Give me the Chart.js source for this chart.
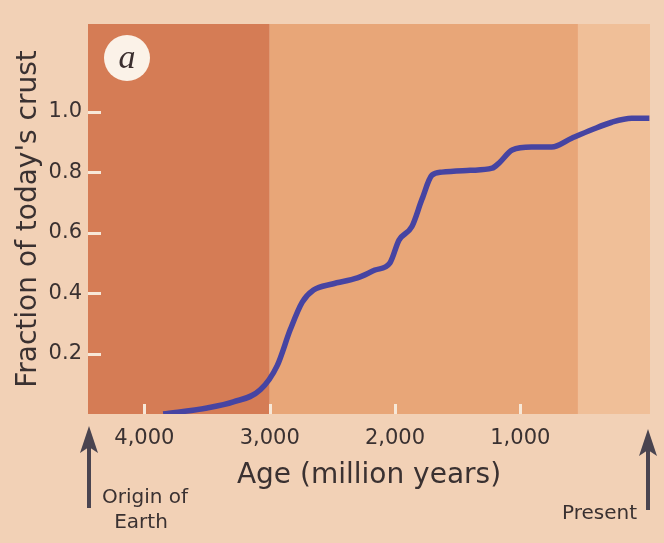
<!DOCTYPE html>
<html>
<head>
<meta charset="utf-8">
<script src="https://cdn.jsdelivr.net/npm/chart.js@4/dist/chart.umd.min.js"></script>
<style>
  html, body { margin: 0; padding: 0; background: #f2d1b6; }
  #wrap { width: 664px; height: 543px; }
</style>
</head>
<body>
<div id="wrap"><canvas id="myChart" width="664" height="543"></canvas></div>
<script>
// age in million years before present, and fraction of today's crust
const ages = [3850, 3500, 3290, 3075, 2940, 2835, 2740, 2650, 2500, 2300, 2160, 2040, 1968, 1865, 1785, 1705, 1625, 1400, 1225, 1170, 1065, 910, 750, 590, 430, 270, 110, -30];
const fraction = [0, 0.02, 0.04, 0.08, 0.16, 0.28, 0.37, 0.41, 0.43, 0.45, 0.476, 0.50, 0.575, 0.62, 0.71, 0.79, 0.80, 0.806, 0.813, 0.83, 0.873, 0.883, 0.883, 0.912, 0.94, 0.965, 0.978, 0.978];
const xTicks = [4000, 3000, 2000, 1000];
const yTicks = [0.2, 0.4, 0.6, 0.8, 1.0];
// shaded background periods (age from, age to)
const bandFrom = [4450, 3000, 540];
const bandTo = [3000, 540, -35];

const bandColors = ['#d57c55', '#e8a678', '#f0bf98'];
const textColor = '#3a3131';
const font = 'DejaVu Sans';

const decorations = {
    id: 'decorations',
    beforeDatasetsDraw(chart) {
        const ctx = chart.ctx;
        const a = chart.chartArea;
        const x = chart.scales.x, y = chart.scales.y;
        ctx.save();
        for (let i = 0; i < bandFrom.length; i++) {
            const x1 = x.getPixelForValue(bandFrom[i]);
            const x2 = x.getPixelForValue(bandTo[i]);
            ctx.fillStyle = bandColors[i];
            ctx.fillRect(Math.min(x1, x2), a.top, Math.abs(x2 - x1), a.bottom - a.top);
        }
        // inward tick marks
        ctx.strokeStyle = '#f7e8d8';
        ctx.lineWidth = 3;
        for (let v of yTicks) {
            const py = Math.round(y.getPixelForValue(v)) + 0.5;
            ctx.beginPath(); ctx.moveTo(a.left, py); ctx.lineTo(a.left + 13, py); ctx.stroke();
        }
        for (let v of xTicks) {
            const px = Math.round(x.getPixelForValue(v)) + 0.5;
            ctx.beginPath(); ctx.moveTo(px, a.bottom); ctx.lineTo(px, a.bottom - 10); ctx.stroke();
        }
        ctx.restore();
    },
    afterDraw(chart) {
        const ctx = chart.ctx;
        const a = chart.chartArea;
        ctx.save();
        // panel label
        ctx.fillStyle = '#fbf2e8';
        ctx.beginPath(); ctx.arc(127, 58, 23, 0, Math.PI * 2); ctx.fill();
        ctx.fillStyle = '#3a2e2e';
        ctx.font = 'italic 34px "Liberation Serif"';
        ctx.textAlign = 'center';
        ctx.textBaseline = 'alphabetic';
        ctx.fillText('a', 127, 68);

        // arrows
        drawArrow(ctx, a.left + 1, 426, 508);
        drawArrow(ctx, 648, 429, 510);

        ctx.fillStyle = textColor;
        ctx.font = '20px "' + font + '"';
        ctx.textAlign = 'center';
        ctx.fillText('Origin of', 145, 503);
        ctx.fillText('Earth', 141, 528);
        ctx.textAlign = 'right';
        ctx.fillText('Present', 637, 519);
        ctx.restore();
    }
};

function drawArrow(ctx, x, top, bottom) {
    ctx.fillStyle = '#4a4450';
    ctx.strokeStyle = '#4a4450';
    ctx.lineWidth = 4;
    ctx.beginPath(); ctx.moveTo(x, top + 20); ctx.lineTo(x, bottom); ctx.stroke();
    ctx.beginPath();
    ctx.moveTo(x, top);
    ctx.lineTo(x - 9, top + 27);
    ctx.lineTo(x, top + 21);
    ctx.lineTo(x + 9, top + 27);
    ctx.closePath();
    ctx.fill();
}

function drawChart() {
    const ctx = document.getElementById('myChart').getContext('2d');
    const points = ages.map((age, i) => ({x: age, y: fraction[i]}));
    new Chart(ctx, {
        type: 'line',
        data: {
            datasets: [{
                label: 'Fraction of crust',
                data: points,
                borderColor: '#4644a2',
                borderWidth: 5.5,
                pointRadius: 0,
                cubicInterpolationMode: 'monotone',
                fill: false
            }]
        },
        options: {
            responsive: false,
            animation: false,
            devicePixelRatio: 1,
            layout: {padding: {top: 24, right: 14, left: 0, bottom: 0}},
            plugins: {legend: {display: false}, tooltip: {enabled: false}},
            scales: {
                x: {
                    type: 'linear',
                    reverse: true,
                    min: -35,
                    max: 4450,
                    afterBuildTicks: s => { s.ticks = xTicks.map(v => ({value: v})); },
                    afterFit: s => { s.height = 129; },
                    grid: {display: false, drawTicks: false},
                    border: {display: false},
                    ticks: {
                        font: {family: font, size: 21},
                        color: textColor,
                        padding: 12,
                        maxRotation: 0,
                        callback: v => v.toLocaleString('en-US')
                    },
                    title: {
                        display: true,
                        text: 'Age (million years)',
                        font: {family: font, size: 28},
                        color: textColor,
                        padding: {bottom: 50}
                    }
                },
                y: {
                    min: 0,
                    max: 1.29,
                    afterBuildTicks: s => { s.ticks = yTicks.map(v => ({value: v})); },
                    afterFit: s => { s.width = 88; },
                    grid: {display: false, drawTicks: false},
                    border: {display: false},
                    ticks: {
                        font: {family: font, size: 21},
                        color: textColor,
                        padding: 6,
                        callback: v => v.toFixed(1)
                    },
                    title: {
                        display: true,
                        text: "Fraction of today's crust",
                        font: {family: font, size: 28},
                        color: textColor,
                        padding: {top: 12}
                    }
                }
            }
        },
        plugins: [decorations]
    });
}

drawChart();
</script>
</body>
</html>
